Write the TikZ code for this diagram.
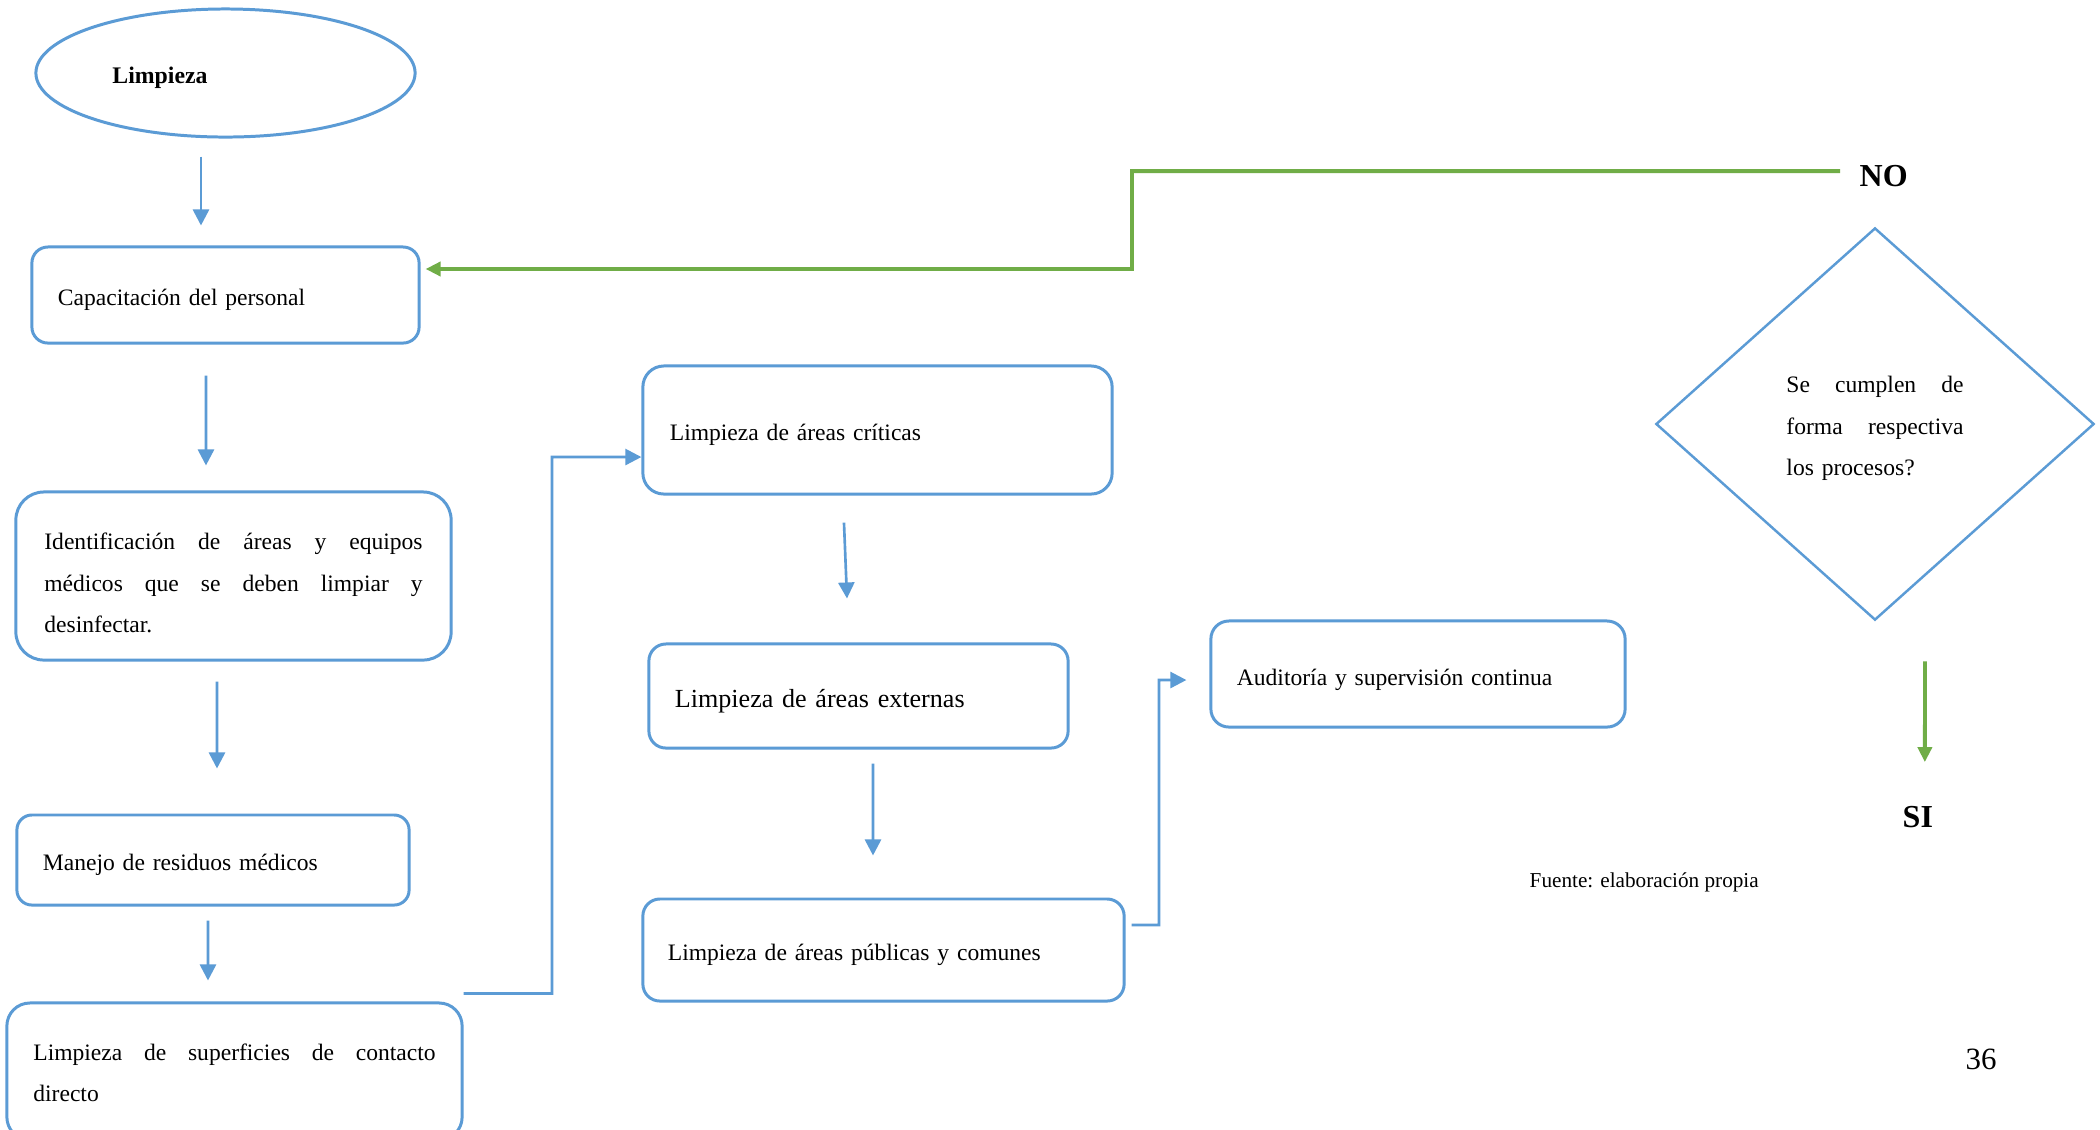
\documentclass[tikz,border=0pt]{standalone}
\usepackage{fontspec}
\setmainfont{Liberation Serif}
\usetikzlibrary{shapes.geometric,arrows.meta}
\definecolor{boxblue}{HTML}{5B9BD5}
\definecolor{loopgreen}{HTML}{70AD47}
\hbadness=10000
\hfuzz=5pt

% one fully justified line of a paragraph (natural word spaces, stretched)
\newcommand{\jline}[1]{\makebox[\hsize][s]{\spaceskip=0pt\xspaceskip=0pt\relax #1}\\}

\tikzset{
  every node/.style={inner sep=0pt},
  body/.style={font=\fontsize{6.70}{11.67}\selectfont},
  % fixes the first baseline: invisible struts above the first and below the last line
  baseat/.style={execute at begin node={\rule{0pt}{#1}},
    execute at end node={\rule[-0.1cm]{0pt}{0.1cm}}},
  procbox/.style={draw=boxblue, line width=0.85pt, rounded corners=#1,
    align=left, body},
  blarrow/.style={draw=boxblue, line width=0.75pt,
    -{Triangle[width=0.16cm,length=0.16cm]}},
  grarrow/.style={draw=loopgreen, line width=1.1pt,
    -{Triangle[width=0.14cm,length=0.15cm]}},
  answer/.style={font=\fontsize{9.1}{11}\selectfont\bfseries},
}

\begin{document}
\begin{tikzpicture}[x=0.01cm, y=-0.01cm]
  \useasboundingbox (0,0) rectangle (2100,1129);
  \fill[white] (0,0) rectangle (2100,1129);
  \clip (0,0) rectangle (2100,1129);

  % start terminal
  \node[draw=boxblue, line width=0.85pt, ellipse, minimum width=3.79cm,
    minimum height=1.28cm, text width=2.26cm, align=left, baseat=0.31cm,
    font=\fontsize{6.76}{8}\selectfont\bfseries] (ell) at (225.5,73) {Limpieza};

  % left column
  \node[procbox=0.16cm, minimum width=3.87cm, minimum height=0.96cm,
    text width=3.35cm, inner xsep=0.26cm, baseat=0.31cm] (cap) at (225.5,295)
    {Capacitación del personal};

  \node[procbox=0.28cm, minimum width=4.35cm, minimum height=1.68cm,
    text width=3.78cm, inner xsep=0.285cm, baseat=0.40cm] (ident) at (233.5,576)
    {\jline{Identificación de áreas y equipos}\jline{médicos que se deben limpiar y}desinfectar.};

  \node[procbox=0.15cm, minimum width=3.92cm, minimum height=0.90cm,
    text width=3.40cm, inner xsep=0.26cm, baseat=0.30cm] (manejo) at (213,860)
    {Manejo de residuos médicos};

  \node[procbox=0.23cm, minimum width=4.55cm, minimum height=1.37cm,
    text width=4.02cm, inner xsep=0.265cm, baseat=0.29cm] (sup) at (234.5,1071.5)
    {\jline{Limpieza de superficies de contacto}directo};

  % middle column
  \node[procbox=0.21cm, minimum width=4.69cm, minimum height=1.28cm,
    text width=4.15cm, inner xsep=0.27cm, baseat=0.31cm] (crit) at (877.5,430)
    {Limpieza de áreas críticas};

  \node[procbox=0.17cm, minimum width=4.19cm, minimum height=1.04cm,
    text width=3.67cm, inner xsep=0.26cm, baseat=0.33cm,
    font=\fontsize{7.42}{9}\selectfont] (ext) at (858.5,696)
    {Limpieza de áreas externas};

  \node[procbox=0.17cm, minimum width=4.81cm, minimum height=1.02cm,
    text width=4.31cm, inner xsep=0.25cm, baseat=0.31cm] (pub) at (883.5,950)
    {Limpieza de áreas públicas y comunes};

  \node[procbox=0.18cm, minimum width=4.14cm, minimum height=1.06cm,
    text width=3.62cm, inner xsep=0.26cm, baseat=0.32cm] (aud) at (1418,674)
    {Auditoría y supervisión continua};

  % decision
  \node[draw=boxblue, line width=0.7pt, diamond, minimum width=4.38cm,
    minimum height=3.92cm, text width=1.77cm, align=left, body,
    baseat=0.30cm] (dec) at (1875,424)
    {\jline{Se cumplen de}\jline{forma respectiva}los procesos?};

  \node[answer, anchor=base west] (no) at (1859,186) {NO};
  \node[answer, anchor=base west] (si) at (1902,827) {SI};

  % notes
  \node[font=\fontsize{6.03}{7}\selectfont, anchor=base west] (src)
    at (1529,887) {Fuente: elaboración propia};
  \node[font=\fontsize{8.8}{10}\selectfont, anchor=base west] (pg)
    at (1965,1069) {36};

  % flow arrows
  \draw[blarrow] ([xshift=-0.245cm,yshift=-0.18cm]ell.south)
    -- ([xshift=-0.245cm,yshift=0.20cm]cap.north);
  \draw[blarrow] ([xshift=-0.195cm,yshift=-0.31cm]cap.south)
    -- ([xshift=-0.275cm,yshift=0.25cm]ident.north);
  \draw[blarrow] ([xshift=-0.165cm,yshift=-0.20cm]ident.south)
    -- ([xshift=0.04cm,yshift=0.45cm]manejo.north);
  \draw[blarrow] ([xshift=-0.05cm,yshift=-0.14cm]manejo.south)
    -- ([xshift=-0.265cm,yshift=0.21cm]sup.north);

  \draw[blarrow] ([yshift=0.08cm]sup.north east)
    -| (552,457) -- ([yshift=-0.27cm]crit.west);

  \draw[blarrow] ([xshift=-0.335cm,yshift=-0.27cm]crit.south)
    -- ([xshift=-0.115cm,yshift=0.44cm]ext.north);
  \draw[blarrow] ([xshift=0.145cm,yshift=-0.14cm]ext.south)
    -- ([xshift=-0.105cm,yshift=0.42cm]pub.north);

  \draw[blarrow] ([xshift=0.06cm,yshift=0.25cm]pub.east)
    -| (1159,680) -- ([xshift=-0.23cm,yshift=-0.06cm]aud.west);

  % decision outcomes
  \draw[grarrow] ([xshift=-0.19cm,yshift=0.045cm]no.west)
    -| (1132,269) -- ([xshift=0.05cm,yshift=0.26cm]cap.east);
  \draw[grarrow] ([xshift=0.5cm,yshift=-0.40cm]dec.south)
    -- ([xshift=0.07cm,yshift=0.43cm]si.north);
\end{tikzpicture}
\end{document}
